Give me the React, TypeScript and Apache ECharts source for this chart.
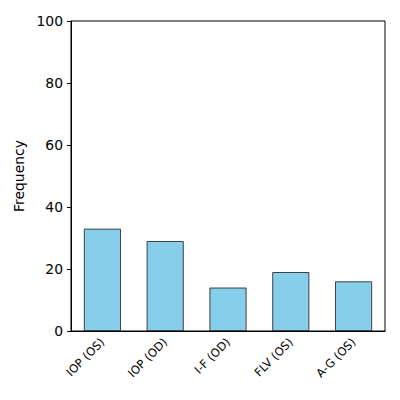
import React, { useEffect, useRef } from "react";
import * as echarts from "echarts";

const categories = ["IOP (OS)", "IOP (OD)", "I-F (OD)", "FLV (OS)", "A-G (OS)"];
const frequencies = [33, 29, 14, 19, 16];
const yTicks = { min: 0, max: 100, interval: 20 };

export default function App() {
  const ref = useRef<HTMLDivElement>(null);
  useEffect(() => {
    if (!ref.current) return;
    const chart = echarts.init(ref.current, null, { renderer: "svg" });
    const font = "DejaVu Sans";
    chart.setOption({
      animation: false,
      backgroundColor: "#fff",
      textStyle: { fontFamily: font },
      grid: {
        left: 71,
        top: 21,
        width: 314,
        height: 310,
        show: true,
        borderColor: "#000",
        borderWidth: 1,
        backgroundColor: "transparent",
      },
      xAxis: {
        type: "category",
        data: categories,
        axisLine: { lineStyle: { color: "#000", width: 1 } },
        axisTick: { alignWithLabel: true, length: 4, lineStyle: { color: "#000" } },
        axisLabel: {
          rotate: 45,
          interval: 0,
          fontSize: 11.5,
          color: "#000",
          fontFamily: font,
          margin: 9,
        },
      },
      yAxis: {
        type: "value",
        min: yTicks.min,
        max: yTicks.max,
        interval: yTicks.interval,
        name: "Frequency",
        nameLocation: "middle",
        nameGap: 41,
        nameTextStyle: { fontSize: 13.9, color: "#000", fontFamily: font },
        axisLine: { show: true, lineStyle: { color: "#000", width: 1 } },
        axisTick: { show: true, length: 4, lineStyle: { color: "#000" } },
        axisLabel: { fontSize: 13.9, color: "#000", fontFamily: font, margin: 8 },
        splitLine: { show: false },
      },
      series: [
        {
          type: "bar",
          data: frequencies,
          barWidth: 37,
          itemStyle: { color: "#87CEEB", borderColor: "#1a1a1a", borderWidth: 0.8 },
        },
      ],
    });
    return () => chart.dispose();
  }, []);
  return (
    <div
      ref={ref}
      style={{ position: "fixed", left: 0, top: 0, width: 400, height: 400, background: "#fff" }}
    />
  );
}
